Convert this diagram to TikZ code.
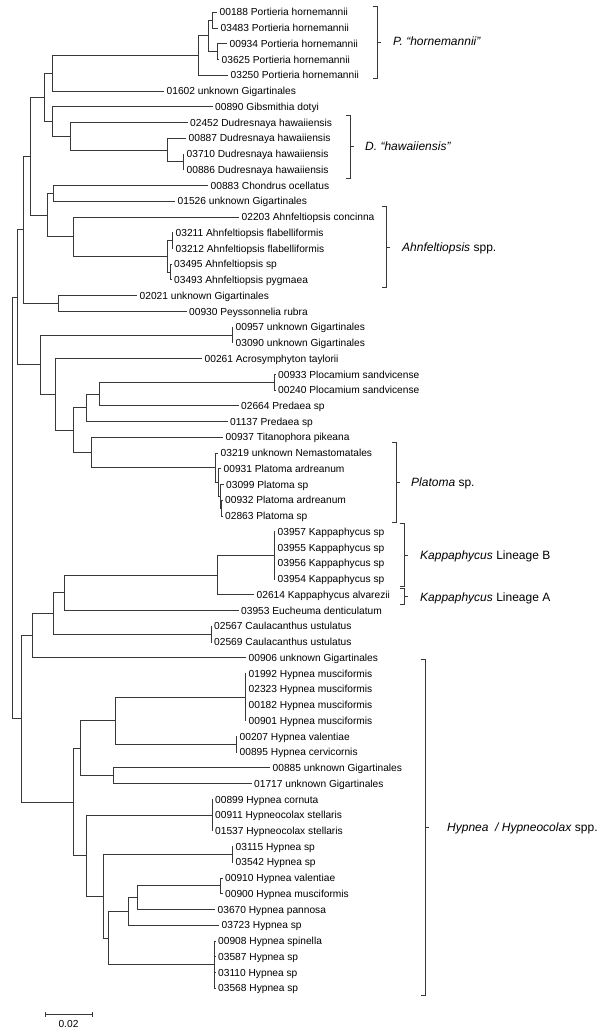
\documentclass[tikz,border=0pt]{standalone}
\usepackage{fontspec}
\setmainfont{Liberation Sans}
\begin{document}
\begin{tikzpicture}[x=1pt,y=-1pt,
  br/.style={draw=black!78, line width=0.8pt},
  leaf/.style={anchor=west, inner xsep=2.5pt, inner ysep=0pt, text height=7.4pt, text depth=0pt, font=\fontsize{10.2}{12}\selectfont},
  grp/.style={anchor=west, inner sep=0pt, text height=8.6pt, text depth=0pt, font=\fontsize{12}{14}\selectfont},
  bk/.style={draw=black!78, line width=0.8pt}]
\useasboundingbox (0,0) rectangle (600,1032);
\newcommand\lf[3]{\node[leaf] (l#1) at (#2,{12.3+(#1-1)*15.74}) {#3};}
\lf{1}{217}{00188 Portieria hornemannii}
\lf{2}{218}{03483 Portieria hornemannii}
\lf{3}{227}{00934 Portieria hornemannii}
\lf{4}{219}{03625 Portieria hornemannii}
\lf{5}{228}{03250 Portieria hornemannii}
\lf{6}{164}{01602 unknown Gigartinales}
\lf{7}{212.5}{00890 Gibsmithia dotyi}
\lf{8}{187.5}{02452 Dudresnaya hawaiiensis}
\lf{9}{186}{00887 Dudresnaya hawaiiensis}
\lf{10}{184}{03710 Dudresnaya hawaiiensis}
\lf{11}{184}{00886 Dudresnaya hawaiiensis}
\lf{12}{208}{00883 Chondrus ocellatus}
\lf{13}{175}{01526 unknown Gigartinales}
\lf{14}{239}{02203 Ahnfeltiopsis concinna}
\lf{15}{173}{03211 Ahnfeltiopsis flabelliformis}
\lf{16}{173}{03212 Ahnfeltiopsis flabelliformis}
\lf{17}{171.5}{03495 Ahnfeltiopsis sp}
\lf{18}{171.5}{03493 Ahnfeltiopsis pygmaea}
\lf{19}{137}{02021 unknown Gigartinales}
\lf{20}{186.5}{00930 Peyssonnelia rubra}
\lf{21}{233}{00957 unknown Gigartinales}
\lf{22}{233}{03090 unknown Gigartinales}
\lf{23}{202}{00261 Acrosymphyton taylorii}
\lf{24}{275.5}{00933 Plocamium sandvicense}
\lf{25}{275.5}{00240 Plocamium sandvicense}
\lf{26}{238.5}{02664 Predaea sp}
\lf{27}{227.5}{01137 Predaea sp}
\lf{28}{223}{00937 Titanophora pikeana}
\lf{29}{218}{03219 unknown Nemastomatales}
\lf{30}{221}{00931 Platoma ardreanum}
\lf{31}{223.5}{03099 Platoma sp}
\lf{32}{222.5}{00932 Platoma ardreanum}
\lf{33}{222.5}{02863 Platoma sp}
\lf{34}{275}{03957 Kappaphycus sp}
\lf{35}{275}{03955 Kappaphycus sp}
\lf{36}{275}{03956 Kappaphycus sp}
\lf{37}{275}{03954 Kappaphycus sp}
\lf{38}{254}{02614 Kappaphycus alvarezii}
\lf{39}{238.5}{03953 Eucheuma denticulatum}
\lf{40}{211.5}{02567 Caulacanthus ustulatus}
\lf{41}{211.5}{02569 Caulacanthus ustulatus}
\lf{42}{246}{00906 unknown Gigartinales}
\lf{43}{246}{01992 Hypnea musciformis}
\lf{44}{246}{02323 Hypnea musciformis}
\lf{45}{246}{00182 Hypnea musciformis}
\lf{46}{246}{00901 Hypnea musciformis}
\lf{47}{237}{00207 Hypnea valentiae}
\lf{48}{237}{00895 Hypnea cervicornis}
\lf{49}{270}{00885 unknown Gigartinales}
\lf{50}{251.5}{01717 unknown Gigartinales}
\lf{51}{212.5}{00899 Hypnea cornuta}
\lf{52}{212.5}{00911 Hypneocolax stellaris}
\lf{53}{212.5}{01537 Hypneocolax stellaris}
\lf{54}{233}{03115 Hypnea sp}
\lf{55}{233}{03542 Hypnea sp}
\lf{56}{222.5}{00910 Hypnea valentiae}
\lf{57}{222.5}{00900 Hypnea musciformis}
\lf{58}{215}{03670 Hypnea pannosa}
\lf{59}{219}{03723 Hypnea sp}
\lf{60}{215.5}{00908 Hypnea spinella}
\lf{61}{215.5}{03587 Hypnea sp}
\lf{62}{215.5}{03110 Hypnea sp}
\lf{63}{215.5}{03568 Hypnea sp}
% internal nodes
\coordinate (nA) at (212,20.15);
\coordinate (nB) at (217,51.65);
\coordinate (nC) at (208,35.9);
\coordinate (nD) at (198,55.6);
\coordinate (nE) at (52,73.3);
\coordinate (nF) at (183,161.85);
\coordinate (nG) at (167,150.0);
\coordinate (nH) at (70,136.25);
\coordinate (nI) at (52,121.5);
\coordinate (nJ) at (44,97.4);
\coordinate (nK) at (53,193.3);
\coordinate (nL) at (172,240.55);
\coordinate (nM) at (170,272.0);
\coordinate (nN) at (167,256.3);
\coordinate (nO) at (73,236.6);
\coordinate (nP) at (47,214.95);
\coordinate (nQ) at (30,156.2);
\coordinate (nR) at (58,303.5);
\coordinate (nS) at (23,229.85);
\coordinate (nT) at (232,334.95);
\coordinate (nU) at (274,382.2);
\coordinate (nV) at (99,394.0);
\coordinate (nW) at (86,407.75);
\coordinate (p1) at (221.5,508.1);
\coordinate (p2) at (220.5,496.3);
\coordinate (p3) at (218.3,482.55);
\coordinate (p4) at (215.5,467.8);
\coordinate (nX) at (91,452.55);
\coordinate (nY) at (73,430.15);
\coordinate (nZ) at (55,394.4);
\coordinate (nAA) at (40,364.7);
\coordinate (nAB) at (17,297.3);
\coordinate (k1) at (274,555.3);
\coordinate (k2) at (217,575.0);
\coordinate (k3) at (64,592.7);
\coordinate (ca) at (211,634.05);
\coordinate (k4) at (53,613.4);
\coordinate (k5) at (32,635.5);
\coordinate (h1) at (245,697.0);
\coordinate (h2) at (236,744.2);
\coordinate (h3) at (115,720.6);
\coordinate (h4) at (113,775.7);
\coordinate (h5) at (80,748.15);
\coordinate (h6) at (212,815.05);
\coordinate (h7) at (232,854.4);
\coordinate (h8) at (220,885.85);
\coordinate (h9) at (137,897.7);
\coordinate (h10) at (128,911.45);
\coordinate (h11) at (214,964.6);
\coordinate (h12) at (108,938.0);
\coordinate (h13) at (103,896.2);
\coordinate (h14) at (86,855.6);
\coordinate (h15) at (73,801.9);
\coordinate (h16) at (21,718.7);
\coordinate (root) at (12,508);
\draw[br]
 (nA) |- (l1.west) (nA) |- (l2.west)
 (nB) |- (l3.west) (nB) |- (l4.west)
 (nC) |- (nA) (nC) |- (nB)
 (nD) |- (nC) (nD) |- (l5.west)
 (nE) |- (nD) (nE) |- (l6.west)
 (nF) |- (l10.west) (nF) |- (l11.west)
 (nG) |- (l9.west) (nG) |- (nF)
 (nH) |- (l8.west) (nH) |- (nG)
 (nI) |- (l7.west) (nI) |- (nH)
 (nJ) |- (nE) (nJ) |- (nI)
 (nK) |- (l12.west) (nK) |- (l13.west)
 (nL) |- (l15.west) (nL) |- (l16.west)
 (nM) |- (l17.west) (nM) |- (l18.west)
 (nN) |- (nL) (nN) |- (nM)
 (nO) |- (l14.west) (nO) |- (nN)
 (nP) |- (nK) (nP) |- (nO)
 (nQ) |- (nJ) (nQ) |- (nP)
 (nR) |- (l19.west) (nR) |- (l20.west)
 (nS) |- (nQ) (nS) |- (nR)
 (nT) |- (l21.west) (nT) |- (l22.west)
 (nU) |- (l24.west) (nU) |- (l25.west)
 (nV) |- (nU) (nV) |- (l26.west)
 (nW) |- (nV) (nW) |- (l27.west)
 (p1) |- (l32.west) (p1) |- (l33.west)
 (p2) |- (l31.west) (p2) |- (p1)
 (p3) |- (l30.west) (p3) |- (p2)
 (p4) |- (l29.west) (p4) |- (p3)
 (nX) |- (l28.west) (nX) |- (p4)
 (nY) |- (nW) (nY) |- (nX)
 (nZ) |- (l23.west) (nZ) |- (nY)
 (nAA) |- (nT) (nAA) |- (nZ)
 (nAB) |- (nS) (nAB) |- (nAA)
 (k1) |- (l34.west) (k1) |- (l35.west) (k1) |- (l36.west) (k1) |- (l37.west)
 (k2) |- (k1) (k2) |- (l38.west)
 (k3) |- (k2) (k3) |- (l39.west)
 (ca) |- (l40.west) (ca) |- (l41.west)
 (k4) |- (k3) (k4) |- (ca)
 (k5) |- (k4) (k5) |- (l42.west)
 (h1) |- (l43.west) (h1) |- (l44.west) (h1) |- (l45.west) (h1) |- (l46.west)
 (h2) |- (l47.west) (h2) |- (l48.west)
 (h3) |- (h1) (h3) |- (h2)
 (h4) |- (l49.west) (h4) |- (l50.west)
 (h5) |- (h3) (h5) |- (h4)
 (h6) |- (l51.west) (h6) |- (l52.west) (h6) |- (l53.west)
 (h7) |- (l54.west) (h7) |- (l55.west)
 (h8) |- (l56.west) (h8) |- (l57.west)
 (h9) |- (h8) (h9) |- (l58.west)
 (h10) |- (h9) (h10) |- (l59.west)
 (h11) |- (l60.west) (h11) |- (l61.west) (h11) |- (l62.west) (h11) |- (l63.west)
 (h12) |- (h10) (h12) |- (h11)
 (h13) |- (h7) (h13) |- (h12)
 (h14) |- (h6) (h14) |- (h13)
 (h15) |- (h5) (h15) |- (h14)
 (h16) |- (k5) (h16) |- (h15)
 (root) |- (nAB) (root) |- (h16);
% brackets
\newcommand\bkt[4]{\draw[bk] (#1-4.5,#2) -- (#1,#2) -- (#1,#3) -- (#1-4.5,#3) (#1,#4) -- (#1+4,#4);}
\bkt{377}{6}{78}{42}
\bkt{350}{115}{178}{146}
\bkt{386}{206}{287}{247}
\bkt{396}{442}{522}{482}
\bkt{404}{523}{586}{555}
\bkt{404}{588}{604}{596}
\bkt{425}{659}{995}{827}
\node[grp] (gP) at (393,41) {\textit{P. “hornemannii”}};
\node[grp] (gD) at (365,146) {\textit{D. “hawaiiensis”}};
\node[grp] (gA) at (402,247) {\textit{Ahnfeltiopsis} spp.};
\node[grp] (gPl) at (411,482) {\textit{Platoma} sp.};
\node[grp] (gKB) at (420,555) {\textit{Kappaphycus} Lineage B};
\node[grp] (gKA) at (420,597) {\textit{Kappaphycus} Lineage A};
\node[grp] (gH) at (447,827) {\textit{Hypnea\ \ / Hypneocolax} spp.};
% scale bar
\coordinate (s1) at (45,1014);
\coordinate (s2) at (92,1014);
\draw[br] (s1) -- (s2) ([yshift=-2.5pt]s1) -- ([yshift=2.5pt]s1) ([yshift=-2.5pt]s2) -- ([yshift=2.5pt]s2);
\node[font=\fontsize{10.2}{12}\selectfont, inner sep=0pt] (sl) at (68.5,1023.5) {0.02};
\end{tikzpicture}
\end{document}
